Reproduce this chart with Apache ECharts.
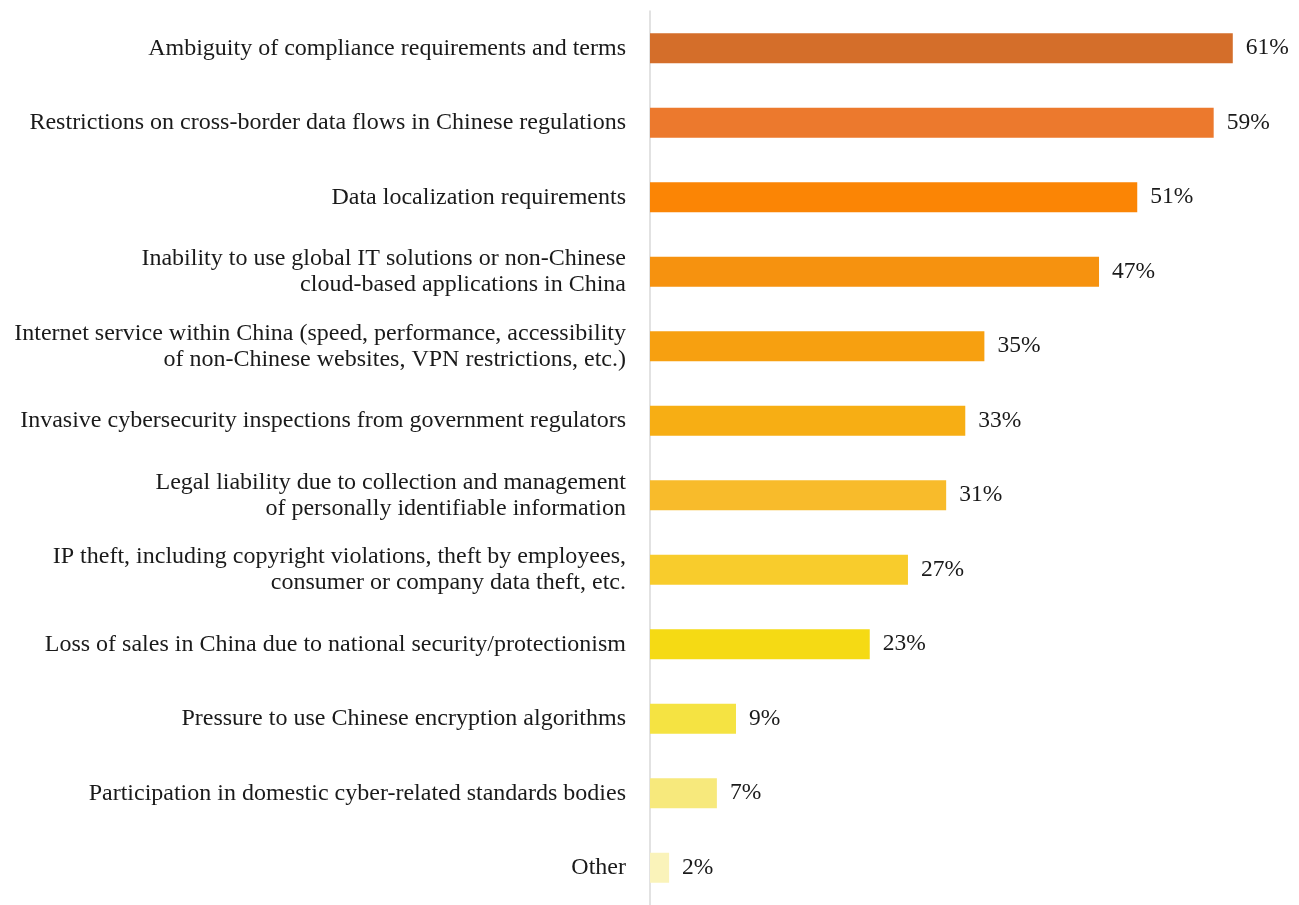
<!DOCTYPE html>
<html>
<head>
<meta charset="utf-8">
<style>
  html, body { margin: 0; padding: 0; background: #ffffff; }
  #chart { width: 1299px; height: 905px; }
</style>
<script src="https://cdn.jsdelivr.net/npm/echarts@6/dist/echarts.min.js"></script>
</head>
<body>
<div id="chart"></div>
<script>
// Challenges reported by respondents (share of respondents, %)
const categories = [
  'Ambiguity of compliance requirements and terms',
  'Restrictions on cross-border data flows in Chinese regulations',
  'Data localization requirements',
  'Inability to use global IT solutions or non-Chinese\ncloud-based applications in China',
  'Internet service within China (speed, performance, accessibility\nof non-Chinese websites, VPN restrictions, etc.)',
  'Invasive cybersecurity inspections from government regulators',
  'Legal liability due to collection and management\nof personally identifiable information',
  'IP theft, including copyright violations, theft by employees,\nconsumer or company data theft, etc.',
  'Loss of sales in China due to national security/protectionism',
  'Pressure to use Chinese encryption algorithms',
  'Participation in domestic cyber-related standards bodies',
  'Other'
];
const values = [61, 59, 51, 47, 35, 33, 31, 27, 23, 9, 7, 2];
const barColors = [
  '#D46E2A', '#EC792D', '#FB8505', '#F6920F', '#F7A010', '#F7AE14',
  '#F8BB2B', '#F8CC2C', '#F5DA14', '#F5E342', '#F7E97C', '#FAF3BA'
];

const FONT = '"Liberation Serif", "DejaVu Serif", serif';
const chart = echarts.init(document.getElementById('chart'));

chart.setOption({
  animation: false,
  grid: { left: 650, right: 28, top: 11, height: 897, containLabel: false },
  xAxis: {
    type: 'value',
    min: 0,
    max: 65,
    show: false
  },
  yAxis: {
    type: 'category',
    data: categories,
    inverse: true,
    axisLine: { show: true, lineStyle: { color: '#d9d9d9', width: 1.5 } },
    axisTick: { show: false },
    splitLine: { show: false },
    axisLabel: {
      color: '#1a1a1a',
      fontFamily: FONT,
      fontSize: 24,
      lineHeight: 26,
      margin: 24,
      align: 'right'
    }
  },
  series: [{
    type: 'bar',
    data: values.map((v, i) => ({ value: v, itemStyle: { color: barColors[i] } })),
    barWidth: 30,
    label: {
      show: true,
      position: 'right',
      distance: 13,
      formatter: p => p.value + '%',
      color: '#1a1a1a',
      fontFamily: FONT,
      fontSize: 23.5
    }
  }]
});
</script>
</body>
</html>
